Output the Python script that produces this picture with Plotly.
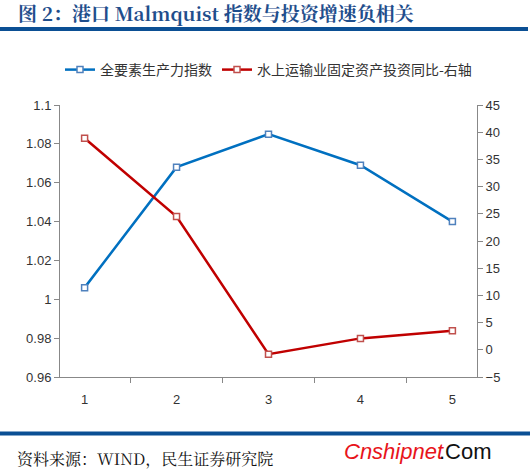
import plotly.graph_objects as go

categories = ["1", "2", "3", "4", "5"]
tfp_index = [1.006, 1.068, 1.085, 1.069, 1.040]
invest_yoy = [38.9, 24.5, -0.8, 2.1, 3.5]
left_ticks = [0.96, 0.98, 1.0, 1.02, 1.04, 1.06, 1.08, 1.1]
left_labels = ["0.96", "0.98", "1", "1.02", "1.04", "1.06", "1.08", "1.1"]
right_ticks = [-5, 0, 5, 10, 15, 20, 25, 30, 35, 40, 45]

BLUE = "#0070C0"
RED = "#C00000"
NAVY = "#0B4F94"

fig = go.Figure()
fig.add_trace(go.Scatter(
    x=categories, y=tfp_index, name="全要素生产力指数", mode="lines+markers",
    line=dict(color=BLUE, width=2.5),
    marker=dict(symbol="square", size=6, color="white", line=dict(color="#4F81BD", width=1.5)),
    yaxis="y"))
fig.add_trace(go.Scatter(
    x=categories, y=invest_yoy, name="水上运输业固定资产投资同比-右轴", mode="lines+markers",
    line=dict(color=RED, width=2.5),
    marker=dict(symbol="square", size=6, color="white", line=dict(color="#C0504D", width=1.5)),
    yaxis="y2"))

tickfont = dict(family="Liberation Sans Narrow, Liberation Sans, Arial", size=13, color="#333")

fig.update_layout(
    width=530, height=472,
    margin=dict(l=60, r=53, t=105, b=95),
    plot_bgcolor="white", paper_bgcolor="white",
    showlegend=True,
    legend=dict(orientation="h", x=0.5, xanchor="center", y=1 - 70/472, yref="container", yanchor="middle",
                font=dict(family="Noto Sans CJK SC", size=14, color="#333"),
                itemwidth=30, tracegroupgap=0),
    xaxis=dict(type="category", showline=True, linecolor="#888", linewidth=1,
               ticks="outside", tickson="boundaries", ticklen=5, tickcolor="#888",
               ticklabelstandoff=10,
               showgrid=False, tickfont=tickfont, zeroline=False),
    yaxis=dict(range=[0.96, 1.1], tickvals=left_ticks, ticktext=left_labels,
               showline=True, linecolor="#888", ticks="outside", ticklen=5, tickcolor="#888",
               showgrid=False, zeroline=False, tickfont=tickfont),
    yaxis2=dict(range=[-5, 45], tickvals=right_ticks, overlaying="y", side="right",
                showline=True, linecolor="#888", ticks="outside", ticklen=5, tickcolor="#888",
                showgrid=False, zeroline=False, tickfont=tickfont),
)

fig.add_shape(type="line", xref="paper", yref="paper", x0=-60/417, x1=(528-60)/417,
              y0=1+(105-29)/272, y1=1+(105-29)/272, line=dict(color=NAVY, width=4))
fig.add_shape(type="line", xref="paper", yref="paper", x0=-60/417, x1=(530-60)/417,
              y0=-(433.5-377)/272, y1=-(433.5-377)/272, line=dict(color=NAVY, width=4))

fig.add_annotation(text="<b>图 2：港口 Malmquist 指数与投资增速负相关</b>", xref="paper", yref="paper",
                   x=-(60-16)/417, y=1+(105-13)/272, xanchor="left", yanchor="middle", showarrow=False,
                   font=dict(family="Noto Serif CJK SC, Liberation Serif, serif", size=19, color="#1F4E8C"))
fig.add_annotation(text="资料来源：WIND，民生证券研究院", xref="paper", yref="paper",
                   x=-(60-15)/417, y=-(458-377)/272, xanchor="left", yanchor="middle", showarrow=False,
                   font=dict(family="Noto Serif CJK SC, Liberation Serif, serif", size=16, color="#111"))
fig.add_annotation(text="<i>Cnshipnet</i>", xref="paper", yref="paper",
                   x=(342-60)/417, y=-(451-377)/272, xanchor="left", yanchor="middle", showarrow=False,
                   font=dict(family="Liberation Sans, Arial", size=22, color="#E8141B"))
fig.add_annotation(text=".Com", xref="paper", yref="paper",
                   x=(437-60)/417, y=-(451-377)/272, xanchor="left", yanchor="middle", showarrow=False,
                   font=dict(family="Liberation Sans, Arial", size=22, color="#111"))

fig.write_html("out.html")
